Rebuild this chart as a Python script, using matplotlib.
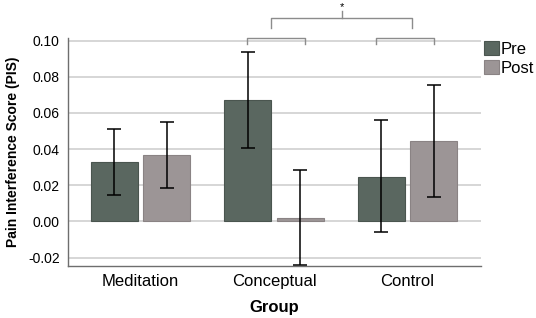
import matplotlib.pyplot as plt
import numpy as np

plt.rcParams['font.family'] = ['Liberation Sans', 'DejaVu Sans']

groups = ['Meditation', 'Conceptual', 'Control']
pre = [0.0326, 0.0670, 0.0248]
post = [0.0365, 0.0019, 0.0444]
pre_lo = [0.0145, 0.0408, -0.0059]
pre_hi = [0.0512, 0.0939, 0.0559]
post_lo = [0.0183, -0.0244, 0.0134]
post_hi = [0.0547, 0.0285, 0.0754]
yticks = [-0.02, 0.00, 0.02, 0.04, 0.06, 0.08, 0.10]

pre_col = '#5a6760'
post_col = '#9c9596'

fig = plt.figure(figsize=(5.36, 3.18), dpi=100)
ax = fig.add_axes([0.1269, 0.1635, 0.7705, 0.717])

x = np.arange(len(groups))
w = 0.352
off = 0.198

pre = np.array(pre); post = np.array(post)
pre_err = [pre - np.array(pre_lo), np.array(pre_hi) - pre]
post_err = [post - np.array(post_lo), np.array(post_hi) - post]

ax.bar(x - off, pre, w, color=pre_col, edgecolor='#4a554f', linewidth=0.8, label='Pre', zorder=2)
ax.bar(x + off, post, w, color=post_col, edgecolor='#8a8384', linewidth=0.8, label='Post', zorder=2)
ax.errorbar(x - off, pre, yerr=pre_err, fmt='none', ecolor='black', elinewidth=1.1, capsize=4.7, capthick=1.1, zorder=3)
ax.errorbar(x + off, post, yerr=post_err, fmt='none', ecolor='black', elinewidth=1.1, capsize=4.7, capthick=1.1, zorder=3)

ax.set_xlim(-0.543, 2.551)
ax.set_ylim(-0.0247, 0.1014)
ax.set_yticks(yticks)
ax.set_yticklabels(['%.2f' % v for v in yticks], fontsize=10)
ax.set_xticks(x)
ax.set_xticklabels(groups, fontsize=12)
ax.tick_params(axis='both', length=0, pad=6)
ax.yaxis.grid(True, color='#cfcfcf', linewidth=1.2, zorder=0)
ax.set_axisbelow(True)
for s in ['top', 'right']:
    ax.spines[s].set_visible(False)
for s in ['left', 'bottom']:
    ax.spines[s].set_color('#6e6e6e')
    ax.spines[s].set_linewidth(1.0)

ax.set_ylabel('Pain Interference Score (PIS)', fontsize=10, fontweight='bold', labelpad=6)
ax.set_xlabel('Group', fontsize=12, fontweight='bold', labelpad=8)

# significance brackets
bk = dict(color='#8c8c8c', linewidth=1.0, clip_on=False)
for x0, x1 in [(0.796, 1.232), (1.762, 2.199)]:
    ax.plot([x0, x0, x1, x1], [0.0982, 0.1015, 0.1015, 0.0982], **bk)
ax.plot([0.978, 0.978, 2.036, 2.036], [0.1071, 0.1123, 0.1123, 0.1071], **bk)
ax.plot([1.507, 1.507], [0.1123, 0.1165], **bk)
ax.text(1.507, 0.1185, '*', ha='center', va='center', fontsize=8)

ax.legend(loc='upper left', bbox_to_anchor=(1.0, 1.0), frameon=False, fontsize=12,
          handlelength=0.9, handleheight=0.9, handletextpad=0.1, labelspacing=0.2,
          borderaxespad=0.1, borderpad=0.1)

fig.savefig('out.png', dpi=100)
